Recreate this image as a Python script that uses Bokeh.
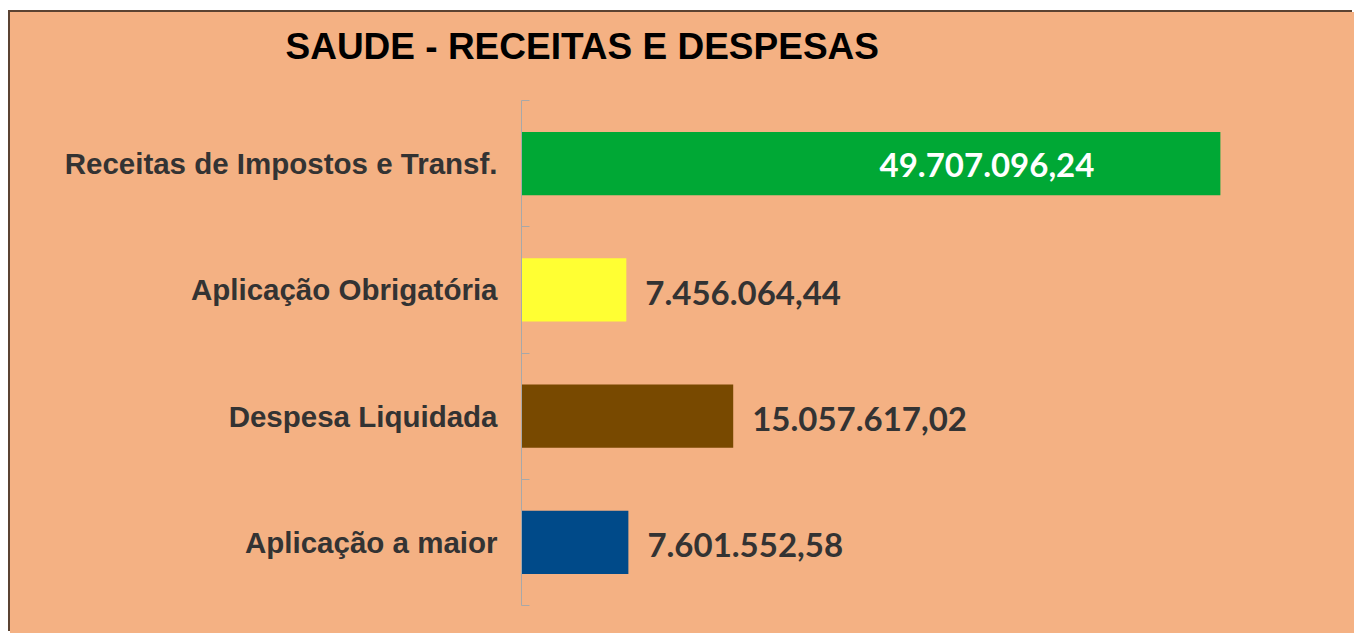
from bokeh.plotting import figure
from bokeh.models import (Range1d, LinearAxis, FixedTicker, ColumnDataSource, Title)
from bokeh.core.properties import value
from bokeh.embed import file_html
from bokeh.resources import INLINE

# ---- data ----
categories = ["Receitas de Impostos e Transf.", "Aplicação Obrigatória",
              "Despesa Liquidada", "Aplicação a maior"]
values = [49707096.24, 7456064.44, 15057617.02, 7601552.58]
bar_colors = ["#00A835", "#FFFF33", "#784900", "#004A89"]
title_text = "SAUDE - RECEITAS E DESPESAS"


def br(v):
    s = f"{v:,.2f}"
    return s.replace(",", "#").replace(".", ",").replace("#", ".")


n = len(categories)
ypos = [n - i - 0.5 for i in range(n)]          # category slot centres, first on top
labels = [br(v) for v in values]
vmax = max(values)
inside = [v == vmax for v in values]

BG = "#F4B183"
AXIS = "#A8A8A8"

p = figure(width=1344, height=621,
           y_range=Range1d(0, n),
           x_range=Range1d(0, 58.25e6),
           x_axis_location=None, y_axis_location=None,
           output_backend="svg", toolbar_location=None,
           min_border_left=511, min_border_right=14,
           min_border_top=88, min_border_bottom=28,
           background_fill_color=None, border_fill_color=None,
           outline_line_color=None)
p.styles = {"margin-left": "10px", "margin-top": "12px",
            "background-color": BG,
            "box-shadow": "-2px -2px 0 0 #5B4332"}
p.grid.visible = False

yaxis = LinearAxis(ticker=FixedTicker(ticks=ypos, minor_ticks=list(range(n + 1))),
                   major_label_overrides={y: c for y, c in zip(ypos, categories)},
                   axis_line_color=AXIS, axis_line_width=1,
                   major_tick_line_color=None, major_tick_in=0, major_tick_out=0,
                   minor_tick_line_color=AXIS, minor_tick_line_width=1,
                   minor_tick_in=8, minor_tick_out=0,
                   major_label_standoff=24,
                   major_label_text_font="Liberation Sans",
                   major_label_text_font_style="bold",
                   major_label_text_font_size="29.5px",
                   major_label_text_color="#333333")
p.add_layout(yaxis, "left")

src = ColumnDataSource(dict(y=ypos, val=values, color=bar_colors))
p.hbar(y="y", right="val", left=0, height=0.5, color="color", line_color=None, source=src)

in_src = ColumnDataSource(dict(
    y=[c for c, i in zip(ypos, inside) if i],
    val=[v for v, i in zip(values, inside) if i],
    lab=[l for l, i in zip(labels, inside) if i]))
out_src = ColumnDataSource(dict(
    y=[c for c, i in zip(ypos, inside) if not i],
    val=[v for v, i in zip(values, inside) if not i],
    lab=[l for l, i in zip(labels, inside) if not i]))

p.text(x="val", y="y", text="lab", source=in_src, x_offset=-126, y_offset=1,
       text_align="right", text_baseline="middle", text_color="#FFFFFF",
       text_font=value("Lato"), text_font_style="bold", text_font_size="33px")
p.text(x="val", y="y", text="lab", source=out_src, x_offset=19, y_offset=3,
       text_align="left", text_baseline="middle", text_color="#333333",
       text_font=value("Lato"), text_font_style="bold", text_font_size="33px")

# blank gap between plotting area and title
p.add_layout(Title(text=" ", text_font_size="2px", standoff=30), "above")
p.title = Title(text=title_text, align="left", offset=-236, standoff=0,
                text_font="Liberation Sans", text_font_size="37px",
                text_font_style="bold", text_color="#000000")

open("out.html", "w").write(file_html(p, INLINE))
